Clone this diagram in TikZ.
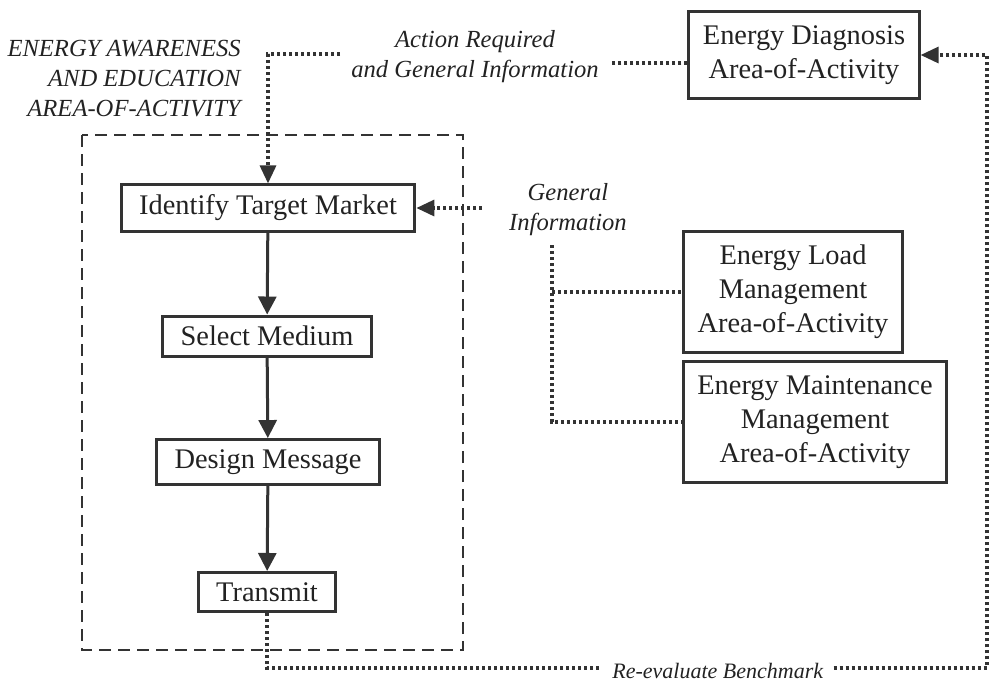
\documentclass[tikz,border=0pt]{standalone}
\usepackage{fontspec}
\setmainfont{Liberation Serif}
\usetikzlibrary{arrows.meta}

\definecolor{inkgray}{HTML}{333333}
\definecolor{textgray}{HTML}{222222}

\tikzset{
  stepbox/.style={draw=inkgray, line width=1.5pt, fill=white, text=textgray,
    font=\fontsize{14.2}{17}\selectfont, align=center, inner xsep=9pt, inner ysep=5pt},
  areabox/.style={stepbox, inner xsep=7pt, inner ysep=7pt},
  italabel/.style={text=textgray, font=\fontsize{12.3}{15}\selectfont\itshape, inner sep=0pt},
  flowarrow/.style={draw=inkgray, line width=1.5pt, -{Triangle[length=9pt, width=9pt]}},
  dotline/.style={draw=inkgray, line width=1.6pt, dash pattern=on 1.6pt off 1.4pt},
  dotarrow/.style={dotline, -{Triangle[length=9pt, width=8pt]}},
  groupline/.style={draw=inkgray, line width=1pt, dash pattern=on 6pt off 3.5pt}
}

\begin{document}
\begin{tikzpicture}[x=0.5pt, y=-0.5pt]

  \useasboundingbox (0,0) rectangle (989,682);

  % -- Awareness and education group --
  \draw[groupline] (82,135) rectangle (463,650);
  \node[italabel, align=right, anchor=east] (awaretitle) at (241,79)
    {ENERGY AWARENESS\\AND EDUCATION\\AREA-OF-ACTIVITY};

  % -- Steps --
  \node[stepbox] (target)   at (268,208) {Identify Target Market};
  \node[stepbox] (medium)   at (267,336) {Select Medium};
  \node[stepbox] (message)  at (268,462) {Design Message};
  \node[stepbox] (transmit) at (267,592) {Transmit};

  \draw[flowarrow] (target) -- (medium);
  \draw[flowarrow] (medium) -- (message);
  \draw[flowarrow] (message) -- (transmit);

  % -- Other areas of activity --
  \node[areabox] (diagnosis) at (804,55)  {Energy Diagnosis\\Area-of-Activity};
  \node[areabox] (load)      at (793,292) {Energy Load\\Management\\Area-of-Activity};
  \node[areabox] (maint)     at (815,422) {Energy Maintenance\\Management\\Area-of-Activity};

  % -- Action required --
  \node[italabel, align=center] (action) at (475,57) {Action Required\\and General Information};
  \coordinate (actR) at (612,63);
  \coordinate (actL) at (340,54);
  \draw[dotline] ([yshift=-4pt]diagnosis.west) -- (actR);
  \draw[dotarrow] (actL) -| (target.north);

  % -- General information --
  \node[italabel, align=center] (general) at (568,210) {General\\Information};
  \coordinate (genL) at (482,208);
  \coordinate (genB) at (552,245);
  \draw[dotarrow] (genL) -- (target.east);
  \draw[dotline] (genB) |- (maint.west);
  \draw[dotline] (genB |- load.west) -- (load.west);

  % -- Re-evaluate benchmark --
  \node[italabel, anchor=west, font=\fontsize{11}{13}\selectfont\itshape] (reeval) at (612,671) {Re-evaluate Benchmark};
  \coordinate (reL) at (602,668);
  \coordinate (reR) at ([xshift=5pt]reeval.east |- reL);
  \coordinate (edge) at (987,668);
  \draw[dotline] (transmit.south) |- (reL);
  \draw[dotarrow] (reR) -- (edge) |- (diagnosis.east);

\end{tikzpicture}
\end{document}
